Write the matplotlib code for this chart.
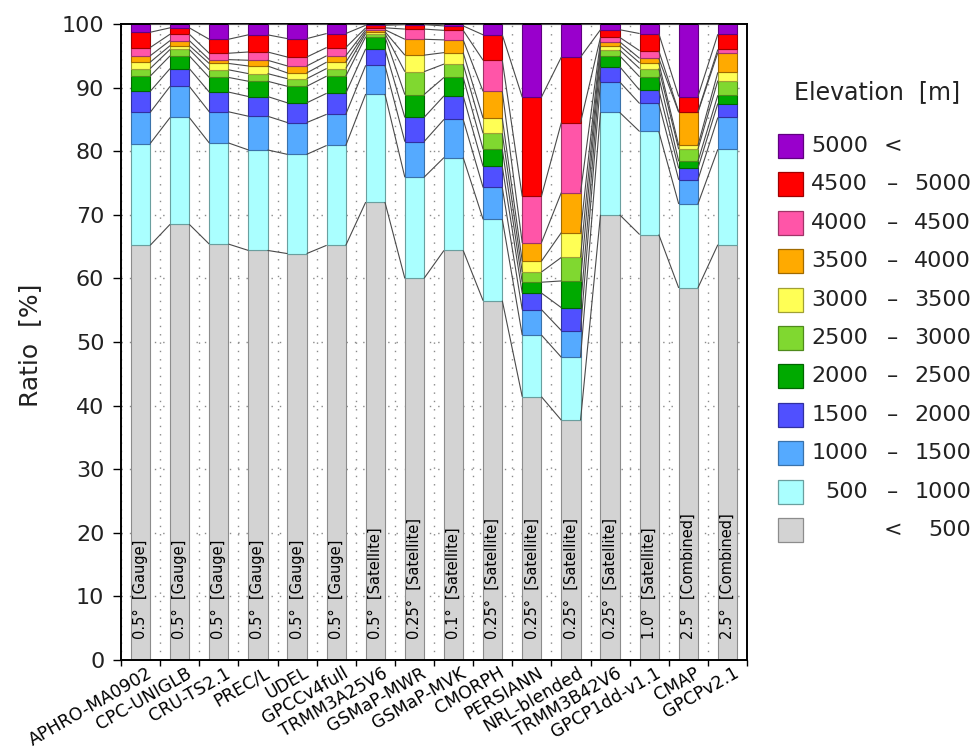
import matplotlib
matplotlib.use("Agg")
import matplotlib.pyplot as plt
import matplotlib.transforms as mtransforms
from matplotlib.patches import Rectangle
import numpy as np

# ---------------- data ----------------
datasets = ["APHRO-MA0902", "CPC-UNIGLB", "CRU-TS2.1", "PREC/L", "UDEL", "GPCCv4full",
            "TRMM3A25V6", "GSMaP-MWR", "GSMaP-MVK", "CMORPH", "PERSIANN", "NRL-blended",
            "TRMM3B42V6", "GPCP1dd-v1.1", "CMAP", "GPCPv2.1"]
resolution = ["0.5°", "0.5°", "0.5°", "0.5°", "0.5°", "0.5°", "0.5°", "0.25°", "0.1°",
              "0.25°", "0.25°", "0.25°", "0.25°", "1.0°", "2.5°", "2.5°"]
data_type = ["Gauge"] * 6 + ["Satellite"] * 8 + ["Combined"] * 2

# ratio [%] of each elevation band, per dataset
lt500      = [65.2, 68.5, 65.4, 64.4, 63.9, 65.2, 72.0, 60.0, 64.4, 56.5, 41.4, 37.7, 70.0, 66.9, 58.5, 65.3]
e500_1000  = [16.0, 16.8, 15.9, 15.8, 15.6, 15.7, 17.0, 15.9, 14.6, 12.8,  9.7,  9.9, 16.1, 16.2, 13.2, 15.0]
e1000_1500 = [ 4.9,  4.9,  4.9,  5.3,  5.0,  4.9,  4.5,  5.6,  6.0,  5.0,  4.0,  4.2,  4.8,  4.4,  3.8,  5.0]
e1500_2000 = [ 3.3,  2.8,  3.1,  3.1,  3.1,  3.3,  2.6,  3.8,  3.7,  3.3,  2.6,  3.6,  2.4,  2.1,  1.8,  2.2]
e2000_2500 = [ 2.4,  2.0,  2.3,  2.4,  2.6,  2.7,  1.9,  3.6,  2.9,  2.7,  1.7,  4.2,  1.7,  2.1,  1.1,  1.3]
e2500_3000 = [ 1.2,  1.0,  1.2,  1.2,  1.2,  1.2,  0.5,  3.6,  2.1,  2.5,  1.6,  3.7,  0.9,  1.3,  1.9,  2.3]
e3000_3500 = [ 1.0,  0.6,  1.0,  1.2,  0.9,  1.0,  0.3,  2.6,  1.8,  2.4,  1.7,  3.9,  0.7,  0.9,  0.6,  1.3]
e3500_4000 = [ 1.0,  0.8,  0.6,  0.9,  1.1,  1.0,  0.3,  2.5,  2.0,  4.2,  2.9,  6.3,  0.6,  0.7,  5.2,  3.1]
e4000_4500 = [ 1.3,  1.0,  1.0,  1.3,  1.4,  1.3,  0.3,  1.6,  1.5,  4.9,  7.3, 11.0,  0.7,  1.2,  0.1,  0.5]
e4500_5000 = [ 2.4,  1.0,  2.2,  2.7,  2.9,  2.2,  0.4,  0.7,  0.7,  4.0, 15.6, 10.3,  1.2,  2.7,  2.4,  2.4]
gt5000     = [ 1.3,  0.6,  2.4,  1.7,  2.3,  1.5,  0.2,  0.1,  0.3,  1.7, 11.5,  5.2,  0.9,  1.5, 11.4,  1.6]

bands = [lt500, e500_1000, e1000_1500, e1500_2000, e2000_2500, e2500_3000,
         e3000_3500, e3500_4000, e4000_4500, e4500_5000, gt5000]
band_colors = ["#d3d3d3", "#aaffff", "#55aaff", "#5050ff", "#00aa00", "#80d830",
               "#ffff55", "#ffaa00", "#ff55a8", "#ff0000", "#9900cc"]
band_edges = ["#8c8c8c", "#6a9f9f", "#3a72aa", "#3030a0", "#006600", "#4f8a1c",
              "#a0a035", "#a06a00", "#a03468", "#a00000", "#600080"]
# legend label columns (lower, sign, upper)
legend_low = ["", "500", "1000", "1500", "2000", "2500", "3000", "3500", "4000", "4500", "5000"]
legend_sign = ["<", "–", "–", "–", "–", "–", "–", "–", "–", "–", "<"]
legend_up = ["500", "1000", "1500", "2000", "2500", "3000", "3500", "4000", "4500", "5000", ""]

# ---------------- figure ----------------
W, H = 976, 749
fig = plt.figure(figsize=(W / 100, H / 100), dpi=100)
ax = fig.add_axes([121 / W, 1 - 660 / H, (747 - 121) / W, (660 - 24) / H])

n = len(datasets)
x = np.arange(n)
bw = 0.49
vals = np.array(bands, dtype=float)
tops = np.cumsum(vals, axis=0)
bottoms = tops - vals

# grid (dotted)
for gx in np.arange(-0.5, n, 1.0):
    ax.axvline(gx, color="#8a8a8a", lw=1.0, ls=(0, (1, 5)), zorder=0)
for gy in range(10, 100, 10):
    ax.axhline(gy, color="#8a8a8a", lw=1.0, ls=(0, (1, 5)), zorder=0)

for k in range(len(bands)):
    ax.bar(x, vals[k], bottom=bottoms[k], width=bw, color=band_colors[k],
           edgecolor=band_edges[k], linewidth=0.8, zorder=2)

# connecting lines between bars
for k in range(len(bands)):
    for i in range(n - 1):
        ax.plot([x[i] + bw / 2, x[i + 1] - bw / 2], [tops[k][i], tops[k][i + 1]],
                color="#4a4a4a", lw=0.8, zorder=3, solid_capstyle="butt")

# in-bar annotations
for i in range(n):
    ax.text(x[i], 3.3, f"{resolution[i]}  [{data_type[i]}]", rotation=90,
            ha="center", va="bottom", fontsize=10.5, color="black", zorder=4)

ax.set_xlim(-0.5, n - 0.5)
ax.set_ylim(0, 100)
ax.set_yticks(range(0, 101, 10))
ax.tick_params(axis="y", labelsize=16, direction="out", length=6, width=1.0, pad=6,
               labelcolor="#222222")
ax.set_xticks(np.arange(-0.5, n, 1.0))
ax.set_xticklabels([])
ax.tick_params(axis="x", direction="out", length=4, width=1.0)
for s in ax.spines.values():
    s.set_linewidth(1.4)
    s.set_color("black")

offset = mtransforms.ScaledTranslation(6 / 100, -4 / 100, fig.dpi_scale_trans)
for i in range(n):
    ax.text(x[i], 0, datasets[i], rotation=30, rotation_mode="anchor",
            ha="right", va="top", fontsize=12.5,
            transform=ax.transData + offset, clip_on=False)

fig.text(30 / W, 1 - 345 / H, "Ratio  [%]", rotation=90, ha="center", va="center",
         fontsize=18, color="#222222")

# legend (manual)
fig.text(877 / W, 1 - 92 / H, "Elevation  [m]", ha="center", va="center",
         fontsize=17, color="#222222")
row_y = 146.0
dy = 38.4
for j, k in enumerate(range(len(bands) - 1, -1, -1)):
    cy = row_y + j * dy
    fig.add_artist(Rectangle((778 / W, 1 - (cy + 12) / H), 25 / W, 24 / H,
                             transform=fig.transFigure, facecolor=band_colors[k],
                             edgecolor=band_edges[k], linewidth=0.9))
    fy = 1 - cy / H
    fig.text(868 / W, fy, legend_low[k], ha="right", va="center", fontsize=16, color="#222222")
    fig.text(893 / W, fy, legend_sign[k], ha="center", va="center", fontsize=16, color="#222222")
    fig.text(971 / W, fy, legend_up[k], ha="right", va="center", fontsize=16, color="#222222")

fig.savefig("out.png", dpi=100)
